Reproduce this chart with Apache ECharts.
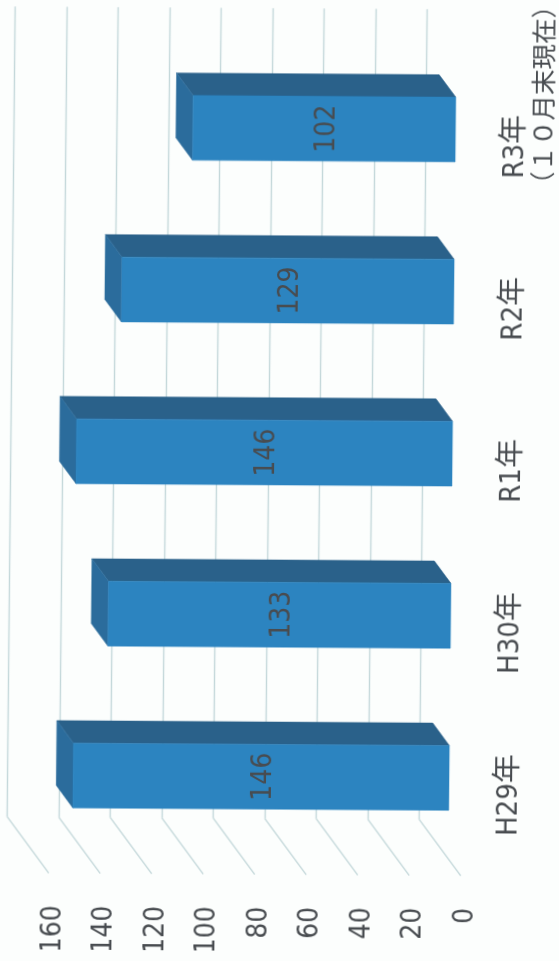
<!DOCTYPE html>
<html lang="ja">
<head>
<meta charset="utf-8">
<title>年別件数</title>
<style>
  html, body { margin: 0; padding: 0; width: 559px; height: 961px; overflow: hidden; background: #fcfefd; }
  #chart { width: 559px; height: 951px; transform-origin: 279.5px 480px; transform: matrix(1, 0.0065, -0.0099, 1, 0, 0); }
</style>
<script src="https://cdn.jsdelivr.net/npm/echarts@6/dist/echarts.min.js"></script>
</head>
<body>
<div id="chart"></div>
<script>
// Years, bottom to top, with their counts
const categories = ['H29年', 'H30年', 'R1年', 'R2年', 'R3年'];
const categoryNotes = ['', '', '', '', '（１０月末現在）'];
const values = [146, 133, 146, 129, 102];
const valueTicks = [0, 20, 40, 60, 80, 100, 120, 140, 160];

// Oblique projection of the floor: how far the front edge sits from the back wall
const DEPTH_X = 42;
const DEPTH_Y = 56;
const BAR_BACK = 0.3;   // bar's rear plane, as a share of the floor depth
const BAR_FRONT = 0.7;  // bar's front plane
const BAR_BAND = 0.4;   // bar height as a share of the category band

const TEXT_COLOR = '#484c50';
const FONT = '"DejaVu Sans Condensed", "DejaVu Sans", "Noto Sans CJK JP", sans-serif';
const QUARTER = Math.PI / 2;

function project(point, depth) {
  return [point[0] + DEPTH_X * depth, point[1] + DEPTH_Y * depth];
}

function uprightText(text, x, y, size, align) {
  return {
    type: 'text',
    x: x,
    y: y,
    rotation: QUARTER,
    style: {
      text: text,
      fill: TEXT_COLOR,
      font: size + 'px ' + FONT,
      textAlign: align,
      textVerticalAlign: 'middle'
    }
  };
}

function renderFloorLine(params, api) {
  const wallX = api.coord([api.value(0), 0])[0];
  const wallY = params.coordSys.y + params.coordSys.height;
  const end = project([wallX, wallY], 1);
  return {
    type: 'group',
    children: [
      {
        type: 'line',
        shape: { x1: wallX, y1: wallY, x2: end[0], y2: end[1] },
        style: { stroke: '#c4d8da', lineWidth: 1.4 }
      },
      uprightText(String(api.value(0)), end[0] + 4.7, end[1] + 32, 28, 'right')
    ]
  };
}

function renderBar(params, api) {
  const value = api.value(0);
  const index = api.value(1);
  const half = api.size([0, 1])[1] * BAR_BAND / 2;
  const tip = api.coord([value, index]);
  const base = api.coord([0, index]);

  const corner = (p, dy, depth) => project([p[0], p[1] + dy], depth);
  const backTip = corner(tip, -half, BAR_BACK);
  const backTipLow = corner(tip, half, BAR_BACK);
  const backBase = corner(base, -half, BAR_BACK);
  const frontTip = corner(tip, -half, BAR_FRONT);
  const frontTipLow = corner(tip, half, BAR_FRONT);
  const frontBase = corner(base, -half, BAR_FRONT);
  const frontBaseLow = corner(base, half, BAR_FRONT);

  const face = (points, fill) => ({
    type: 'polygon',
    shape: { points: points },
    style: { fill: fill, stroke: fill, lineWidth: 0.5 }
  });

  const labelX = (frontTip[0] + frontBase[0]) / 2 + 3;
  const labelY = (frontTip[1] + frontTipLow[1]) / 2;
  const labelWallX = base[0] + 90;
  const labelWallY = base[1] + 56;

  const children = [
    face([backTip, backBase, frontBase, frontTip], '#2a618a'),
    face([backTip, backTipLow, frontTipLow, frontTip], '#2b6c9c'),
    face([frontTip, frontBase, frontBaseLow, frontTipLow], '#2c84c0'),
    uprightText(String(value), labelX, labelY, 28, 'center'),
    uprightText(categories[index], labelWallX, labelWallY, 29, 'center')
  ];
  if (categoryNotes[index]) {
    children.push(uprightText(categoryNotes[index], labelWallX + 30, labelWallY + 50, 25.5, 'left'));
  }
  return { type: 'group', children: children };
}

const chart = echarts.init(document.getElementById('chart'), null, { renderer: 'canvas' });
chart.setOption({
  animation: false,
  backgroundColor: 'transparent',
  grid: { left: 10.6, width: 412, top: 8.2, height: 810.5 },
  xAxis: {
    type: 'value',
    inverse: true,
    min: 0,
    max: 160,
    interval: 20,
    axisLine: { show: false },
    axisTick: { show: false },
    axisLabel: { show: false },
    splitLine: { show: true, lineStyle: { color: '#c4d8da', width: 1.4 } }
  },
  yAxis: {
    type: 'category',
    data: categories,
    axisLine: { show: false },
    axisTick: { show: false },
    axisLabel: { show: false },
    splitLine: { show: false }
  },
  series: [
    {
      type: 'custom',
      clip: false,
      silent: true,
      data: valueTicks.map(t => [t, 0]),
      encode: { x: 0, y: 1 },
      renderItem: renderFloorLine
    },
    {
      type: 'custom',
      clip: false,
      silent: true,
      data: values.map((v, i) => [v, i]),
      encode: { x: 0, y: 1 },
      renderItem: renderBar
    }
  ]
});
</script>
</body>
</html>
